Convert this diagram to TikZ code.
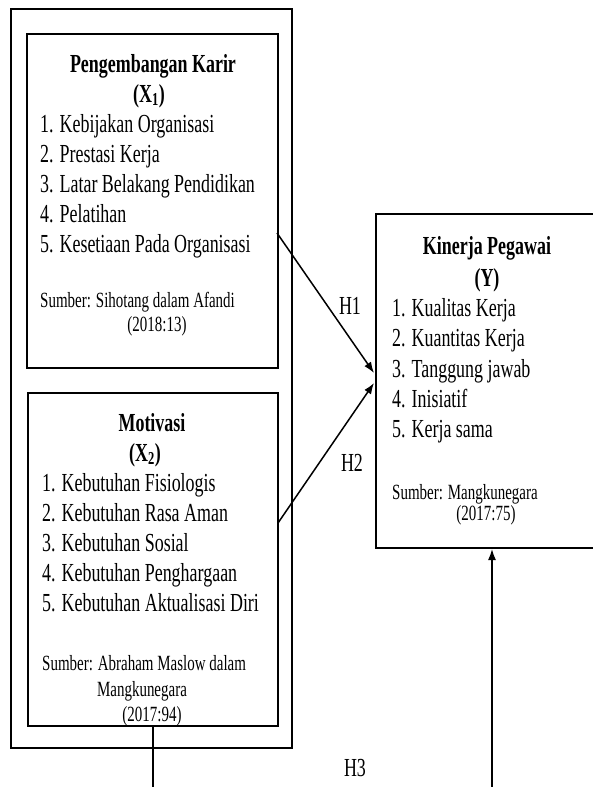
\documentclass[tikz,border=0pt]{standalone}
\usepackage{fontspec}
\setmainfont{Liberation Serif}[FakeStretch=0.69]
\usetikzlibrary{arrows.meta}
\begin{document}
\begin{tikzpicture}[x=1pt,y=-1pt,
  box/.style={draw, line width=2pt, inner sep=0pt, anchor=north west},
  txt/.style={anchor=base west, inner sep=0pt, font=\fontsize{26}{30}\selectfont},
  ttl/.style={anchor=base, inner sep=0pt, font=\fontsize{26}{30}\selectfont\bfseries},
  srcl/.style={anchor=base west, inner sep=0pt, font=\fontsize{21.7}{25}\selectfont},
  srcc/.style={anchor=base, inner sep=0pt, font=\fontsize{21.7}{25}\selectfont},
  lbl/.style={anchor=base, inner sep=0pt, font=\fontsize{26}{30}\selectfont},
  conn/.style={line width=1.5pt, -{Latex[length=11pt,width=8pt]}},
  plain/.style={line width=1.5pt}
  ]
\useasboundingbox (0,0) rectangle (593,787);
\fill[white] (0,0) rectangle (593,787);

% boxes
\node[box, minimum width=281pt, minimum height=739pt] (outer) at (10,8) {};
\node[box, minimum width=251pt, minimum height=334pt] (x1) at (26,33) {};
\node[box, minimum width=250pt, minimum height=333pt] (x2) at (27,392) {};
\node[box, minimum width=220pt, minimum height=334pt] (y) at (375,213) {};

% X1 text
\node[ttl] (x1t) at (153,72) {Pengembangan Karir};
\node[ttl] (x1s) at (149,102) {(X\textsubscript{1})};
\node[txt] (x1a) at (40,132) {1. Kebijakan Organisasi};
\node[txt] (x1b) at (40,162) {2. Prestasi Kerja};
\node[txt] (x1c) at (40,192) {3. Latar Belakang Pendidikan};
\node[txt] (x1d) at (40,222) {4. Pelatihan};
\node[txt] (x1e) at (40,252) {5. Kesetiaan Pada Organisasi};
\node[srcl] (x1f) at (40,307) {Sumber: Sihotang dalam Afandi};
\node[srcc] (x1g) at (157,331) {(2018:13)};

% X2 text
\node[ttl] (x2t) at (152,431) {Motivasi};
\node[ttl] (x2s) at (145,461) {(X\textsubscript{2})};
\node[txt] (x2a) at (42,491) {1. Kebutuhan Fisiologis};
\node[txt] (x2b) at (42,521) {2. Kebutuhan Rasa Aman};
\node[txt] (x2c) at (42,551) {3. Kebutuhan Sosial};
\node[txt] (x2d) at (42,581) {4. Kebutuhan Penghargaan};
\node[txt] (x2e) at (42,611) {5. Kebutuhan Aktualisasi Diri};
\node[srcl] (x2f) at (42,670) {Sumber: Abraham Maslow dalam};
\node[srcc] (x2g) at (142,696) {Mangkunegara};
\node[srcc] (x2h) at (152,721) {(2017:94)};

% Y text
\node[ttl] (yt) at (487,254) {Kinerja Pegawai};
\node[ttl] (ys) at (487,286) {(Y)};
\node[txt] (ya) at (392,316) {1. Kualitas Kerja};
\node[txt] (yb) at (392,346) {2. Kuantitas Kerja};
\node[txt] (yc) at (392,377) {3. Tanggung jawab};
\node[txt] (yd) at (392,407) {4. Inisiatif};
\node[txt] (ye) at (392,437) {5. Kerja sama};
\node[srcl] (yf) at (392,499) {Sumber: Mangkunegara};
\node[srcc] (yg) at (486,520) {(2017:75)};

% labels
\node[lbl] (h1) at (350,314) {H1};
\node[lbl] (h2) at (352,471) {H2};
\node[lbl] (h3) at (355,776) {H3};

% connectors
\coordinate (h1s) at (277,233);
\coordinate (h1e) at (374,373);
\coordinate (h2s) at (278,523);
\coordinate (h2e) at (374,383);
\coordinate (bl) at (153,787);
\coordinate (br) at (492,787);
\draw[conn] (h1s) -- (h1e);
\draw[conn] (h2s) -- (h2e);
\draw[plain] (x2.south -| bl) -- (bl);
\draw[conn] (br) -- (br |- y.south);
\end{tikzpicture}
\end{document}
